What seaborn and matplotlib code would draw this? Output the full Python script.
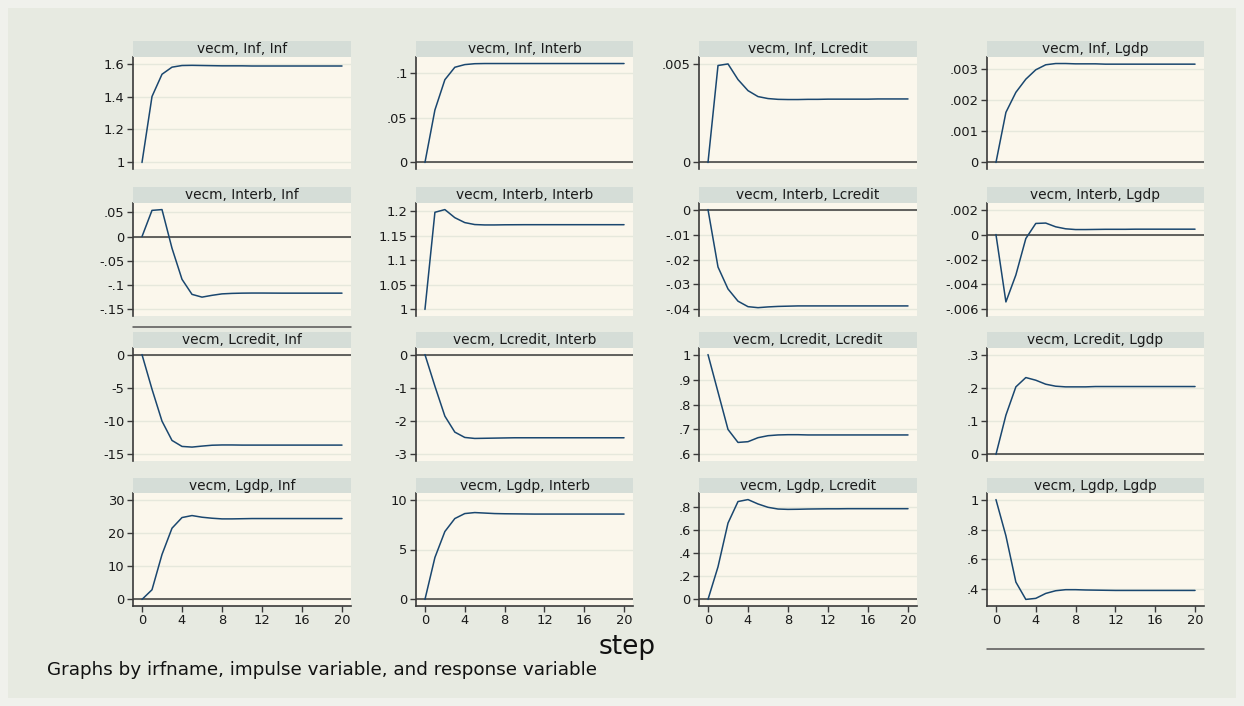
import numpy as np
import pandas as pd
import matplotlib
matplotlib.use("Agg")
import matplotlib.pyplot as plt
from matplotlib.lines import Line2D
from matplotlib.patches import Rectangle
import seaborn as sns

# ---------------- data ----------------
variables = ["Inf", "Interb", "Lcredit", "Lgdp"]
steps = list(range(21))
x_ticks = [0, 4, 8, 12, 16, 20]

inf_inf = [1.000, 1.400, 1.535, 1.578, 1.588, 1.589, 1.588, 1.587, 1.586, 1.586, 1.586,
           1.585, 1.585, 1.585, 1.585, 1.585, 1.585, 1.585, 1.585, 1.585, 1.585]
inf_interb = [0.0, 0.059, 0.093, 0.107, 0.110, 0.111, 0.1112, 0.1112, 0.1112, 0.1112, 0.1112,
              0.1112, 0.1112, 0.1112, 0.1112, 0.1112, 0.1112, 0.1112, 0.1112, 0.1112, 0.1112]
inf_lcredit = [0.0, 0.00490, 0.00498, 0.00419, 0.00363, 0.00333, 0.00323, 0.00319, 0.00318, 0.00318, 0.00319,
               0.00319, 0.00320, 0.00320, 0.00320, 0.00320, 0.00320, 0.00321, 0.00321, 0.00321, 0.00321]
inf_lgdp = [0.0, 0.00160, 0.00224, 0.00266, 0.00296, 0.00312, 0.00316, 0.00316, 0.00315, 0.00315, 0.00315,
            0.00314, 0.00314, 0.00314, 0.00314, 0.00314, 0.00314, 0.00314, 0.00314, 0.00314, 0.00314]

interb_inf = [0.0, 0.054, 0.0556, -0.024, -0.088, -0.119, -0.1247, -0.121, -0.118, -0.117, -0.1165,
              -0.1163, -0.1163, -0.1164, -0.1165, -0.1165, -0.1165, -0.1165, -0.1165, -0.1165, -0.1165]
interb_interb = [1.0, 1.198, 1.2035, 1.187, 1.177, 1.173, 1.1722, 1.1722, 1.1725, 1.1726, 1.1727,
                 1.1727, 1.1727, 1.1727, 1.1727, 1.1727, 1.1727, 1.1727, 1.1727, 1.1727, 1.1727]
interb_lcredit = [0.0, -0.0230, -0.0318, -0.0367, -0.0389, -0.0393, -0.0390, -0.0388, -0.0387, -0.0386, -0.0386,
                  -0.0386, -0.0386, -0.0386, -0.0386, -0.0386, -0.0386, -0.0386, -0.0386, -0.0386, -0.0386]
interb_lgdp = [0.0, -0.0054, -0.00324, -0.00032, 0.00089, 0.00092, 0.00062, 0.00046, 0.00040, 0.00040, 0.00041,
               0.00042, 0.00042, 0.00042, 0.00043, 0.00043, 0.00043, 0.00043, 0.00043, 0.00043, 0.00043]

lcredit_inf = [0.0, -5.2, -10.0, -12.9, -13.8, -13.9, -13.75, -13.62, -13.58, -13.58, -13.60,
               -13.60, -13.60, -13.60, -13.60, -13.60, -13.60, -13.60, -13.60, -13.60, -13.60]
lcredit_interb = [0.0, -0.95, -1.85, -2.33, -2.49, -2.52, -2.515, -2.51, -2.505, -2.50, -2.50,
                  -2.50, -2.50, -2.50, -2.50, -2.50, -2.50, -2.50, -2.50, -2.50, -2.50]
lcredit_lcredit = [1.0, 0.85, 0.700, 0.648, 0.651, 0.667, 0.675, 0.678, 0.679, 0.679, 0.678,
                   0.678, 0.678, 0.678, 0.678, 0.678, 0.678, 0.678, 0.678, 0.678, 0.678]
lcredit_lgdp = [0.0, 0.118, 0.203, 0.231, 0.223, 0.211, 0.205, 0.203, 0.203, 0.203, 0.204,
                0.204, 0.204, 0.204, 0.204, 0.204, 0.204, 0.204, 0.204, 0.204, 0.204]

lgdp_inf = [0.0, 2.9, 13.5, 21.4, 24.6, 25.2, 24.7, 24.4, 24.2, 24.2, 24.25,
            24.3, 24.3, 24.3, 24.3, 24.3, 24.3, 24.3, 24.3, 24.3, 24.3]
lgdp_interb = [0.0, 4.2, 6.8, 8.1, 8.6, 8.7, 8.65, 8.6, 8.58, 8.57, 8.56,
               8.55, 8.55, 8.55, 8.55, 8.55, 8.55, 8.55, 8.55, 8.55, 8.55]
lgdp_lcredit = [0.0, 0.283, 0.663, 0.850, 0.867, 0.829, 0.800, 0.785, 0.782, 0.783, 0.785,
                0.786, 0.787, 0.787, 0.788, 0.788, 0.788, 0.788, 0.788, 0.788, 0.788]
lgdp_lgdp = [1.0, 0.758, 0.449, 0.333, 0.340, 0.373, 0.391, 0.398, 0.398, 0.396, 0.395,
             0.394, 0.393, 0.393, 0.393, 0.393, 0.393, 0.393, 0.393, 0.393, 0.393]

responses = [
    [inf_inf, inf_interb, inf_lcredit, inf_lgdp],
    [interb_inf, interb_interb, interb_lcredit, interb_lgdp],
    [lcredit_inf, lcredit_interb, lcredit_lcredit, lcredit_lgdp],
    [lgdp_inf, lgdp_interb, lgdp_lcredit, lgdp_lgdp],
]

y_ticks = [
    [[1, 1.2, 1.4, 1.6], [0, 0.05, 0.1], [0, 0.005], [0, 0.001, 0.002, 0.003]],
    [[0.05, 0, -0.05, -0.1, -0.15], [1, 1.05, 1.1, 1.15, 1.2], [0, -0.01, -0.02, -0.03, -0.04],
     [0.002, 0, -0.002, -0.004, -0.006]],
    [[0, -5, -10, -15], [0, -1, -2, -3], [1, 0.9, 0.8, 0.7, 0.6], [0, 0.1, 0.2, 0.3]],
    [[0, 10, 20, 30], [0, 5, 10], [0, 0.2, 0.4, 0.6, 0.8], [0.4, 0.6, 0.8, 1]],
]

# ---------------- style ----------------
sns.set_style("ticks")
plt.rcParams["font.family"] = ["DejaVu Sans"]

W, H = 1244, 706
FIG_BG = "#e7eae1"
BORDER_BG = "#f0f1ec"
PLOT_BG = "#fbf7ec"
STRIP_BG = "#d5ddd7"
GRID = "#e6e8dc"
LINE = "#1a476f"
AXC = "#3a3a3a"
TXT = "#1a1a1a"

col_x = [(133, 351), (416, 633), (699, 917), (987, 1204)]
row_y = [(41, 57, 169), (187, 203, 316), (332, 348, 461), (478, 493, 606)]


def fmt(v):
    s = f"{v:g}"
    if s.startswith("0."):
        s = s[1:]
    elif s.startswith("-0."):
        s = "-" + s[2:]
    return s


fig = plt.figure(figsize=(W / 100, H / 100), dpi=100)
fig.patch.set_facecolor(BORDER_BG)
fig.add_artist(Rectangle((8 / W, 8 / H), 1 - 16 / W, 1 - 16 / H, transform=fig.transFigure,
                         facecolor=FIG_BG, edgecolor="none", zorder=0))


def add_px_axes(x0, x1, ytop, ybot):
    return fig.add_axes([x0 / W, 1 - ybot / H, (x1 - x0) / W, (ybot - ytop) / H])


for r, imp in enumerate(variables):
    for c, resp in enumerate(variables):
        x0, x1 = col_x[c]
        st, pt, pb = row_y[r]
        vals = responses[r][c]
        ticks = y_ticks[r][c]
        df = pd.DataFrame({"step": steps, "value": vals})

        ax = add_px_axes(x0, x1, pt, pb)
        ax.set_facecolor(PLOT_BG)
        lo = min(min(ticks), min(vals))
        hi = max(max(ticks), max(vals))
        m = 0.066 * (hi - lo)
        ax.set_ylim(lo - m, hi + m)
        ax.set_xlim(-0.9, 20.9)
        ax.set_yticks(ticks)
        ax.set_yticklabels([fmt(t) for t in ticks])
        ax.yaxis.grid(True, color=GRID, lw=1.0)
        ax.set_axisbelow(True)
        if lo - m < 0 < hi + m:
            ax.axhline(0, color=AXC, lw=1.1, zorder=1.5)
        sns.lineplot(data=df, x="step", y="value", ax=ax, color=LINE, lw=1.1, zorder=3)
        ax.set_xlabel("")
        ax.set_ylabel("")
        for s in ["top", "right"]:
            ax.spines[s].set_visible(False)
        ax.spines["left"].set_color(AXC)
        ax.spines["left"].set_linewidth(1.2)
        ax.tick_params(axis="y", direction="out", length=4, width=1, color=AXC,
                       labelsize=9.4, pad=2, labelcolor=TXT)
        if r == 3:
            ax.set_xticks(x_ticks)
            ax.set_xticklabels([str(t) for t in x_ticks])
            ax.spines["bottom"].set_color(AXC)
            ax.spines["bottom"].set_linewidth(1.2)
            ax.tick_params(axis="x", direction="out", length=4, width=1, color=AXC,
                           labelsize=9.4, pad=2, labelcolor=TXT)
        else:
            ax.set_xticks([])
            ax.spines["bottom"].set_visible(False)

        sax = add_px_axes(x0, x1, st, pt)
        sax.set_facecolor(STRIP_BG)
        sax.set_xticks([])
        sax.set_yticks([])
        for s in sax.spines.values():
            s.set_visible(False)
        sax.text(0.5, 0.47, f"vecm, {imp}, {resp}", ha="center", va="center",
                 fontsize=9.9, color=TXT, transform=sax.transAxes)

# stray axis lines as in the original layout
fig.add_artist(Line2D([133 / W, 351 / W], [1 - 327 / H, 1 - 327 / H], color="#555555", lw=1.1))
fig.add_artist(Line2D([987 / W, 1204 / W], [1 - 649 / H, 1 - 649 / H], color="#555555", lw=1.1))

fig.text(627 / W, 1 - 647 / H, "step", ha="center", va="center", fontsize=19, color="#111111")
fig.text(47 / W, 1 - 670 / H, "Graphs by irfname, impulse variable, and response variable",
         ha="left", va="center", fontsize=13.2, color="#111111")

fig.savefig("out.png", dpi=100, facecolor=fig.get_facecolor())
